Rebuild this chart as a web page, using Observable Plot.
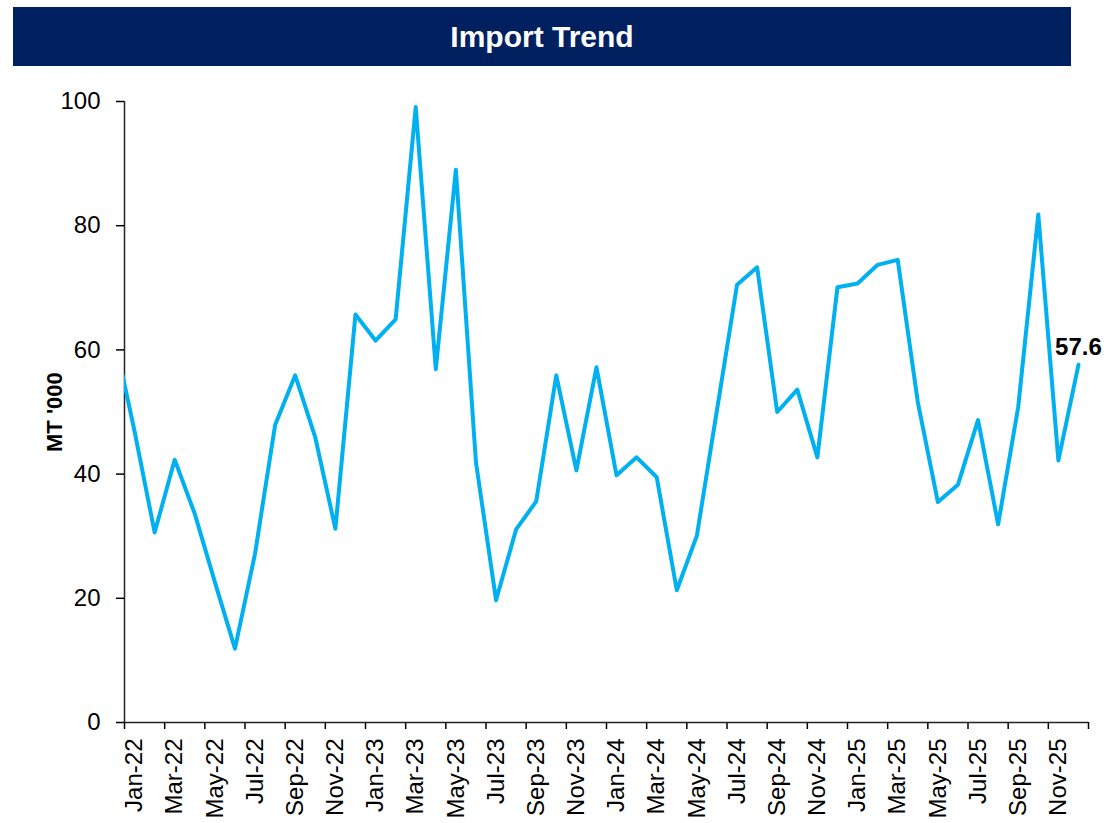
<!DOCTYPE html>
<html><head><meta charset="utf-8">
<script src="https://cdn.jsdelivr.net/npm/d3@7"></script>
<script src="https://cdn.jsdelivr.net/npm/@observablehq/plot@0.6"></script>
<style>
body{margin:0;background:#fff;font-family:"Liberation Sans",Arial,sans-serif;overflow:hidden;}
#title{margin:7px 0 0 13px;width:1058px;height:59px;background:#002060;color:#fff;font-weight:bold;font-size:30px;display:flex;align-items:center;justify-content:center;}
#chart svg{display:block;}
</style></head><body>
<div id="title">Import Trend</div>
<div id="chart"></div>
<script>
const months = ["Jan-22","Feb-22","Mar-22","Apr-22","May-22","Jun-22","Jul-22","Aug-22","Sep-22","Oct-22","Nov-22","Dec-22",
"Jan-23","Feb-23","Mar-23","Apr-23","May-23","Jun-23","Jul-23","Aug-23","Sep-23","Oct-23","Nov-23","Dec-23",
"Jan-24","Feb-24","Mar-24","Apr-24","May-24","Jun-24","Jul-24","Aug-24","Sep-24","Oct-24","Nov-24","Dec-24",
"Jan-25","Feb-25","Mar-25","Apr-25","May-25","Jun-25","Jul-25","Aug-25","Sep-25","Oct-25","Nov-25","Dec-25"];
const values = [46.9,30.6,42.3,33.6,22.6,11.9,27.2,47.9,55.9,45.9,31.2,65.7,
61.5,64.9,99.1,56.9,89.0,41.9,19.7,31.1,35.6,55.9,40.6,57.2,
39.8,42.7,39.5,21.3,30.1,50.3,70.5,73.3,50.0,53.6,42.7,70.1,
70.7,73.7,74.5,51.6,35.5,38.3,48.7,31.9,50.8,81.8,42.2,57.6];
// month before the axis starts (only its segment entering the chart is visible)
const priorMonth = "Dec-21";
const priorValue = 62.0;
const yTicks = [0,20,40,60,80,100];
const yLabel = "MT '000";

const data = [{i:-1, m:priorMonth, v:priorValue}, ...months.map((m,i)=>({i, m, v:values[i]}))];
const last = data[data.length-1];
const boundaryTicks = d3.range(-0.5, months.length, 2);
const labelTicks = d3.range(0, months.length, 2);
const FONT = "'Liberation Sans', Arial, sans-serif";

const chart = Plot.plot({
  width:1104, height:757,
  marginLeft:124, marginRight:16, marginTop:35, marginBottom:101,
  x:{type:"linear", domain:[-0.5, months.length-0.5]},
  y:{domain:[0,100]},
  style:{fontFamily:FONT, fontSize:"24px", color:"#000", background:"white"},
  marks:[
    Plot.axisY({ticks:yTicks, tickSize:8, tickPadding:16, fontSize:24, strokeWidth:1.5, label:null}),
    Plot.axisX({ticks:boundaryTicks, tickSize:7, tickFormat:()=>"", label:null, strokeWidth:1.5}),
    Plot.axisX({ticks:labelTicks, tickSize:0, tickPadding:16, tickRotate:-90, tickFormat:i=>months[i], label:null, fontSize:24}),
    Plot.ruleX([-0.5], {stroke:"#222", strokeWidth:1.5}),
    Plot.ruleY([0], {stroke:"#222", strokeWidth:1.5}),
    Plot.lineY(data, {x:"i", y:"v", stroke:"#00B0F0", strokeWidth:4, strokeLinejoin:"round", clip:true}),
    Plot.text([last], {x:"i", y:"v", text:d=>d.v.toFixed(1), fontWeight:"bold", fontSize:24, fontFamily:FONT, dy:-10, lineAnchor:"bottom"}),
    Plot.text([yLabel], {frameAnchor:"left", dx:-70, dy:40, rotate:-90, fontWeight:"bold", fontSize:22, fontFamily:FONT})
  ]
});
document.getElementById("chart").appendChild(chart);
</script>
</body></html>
